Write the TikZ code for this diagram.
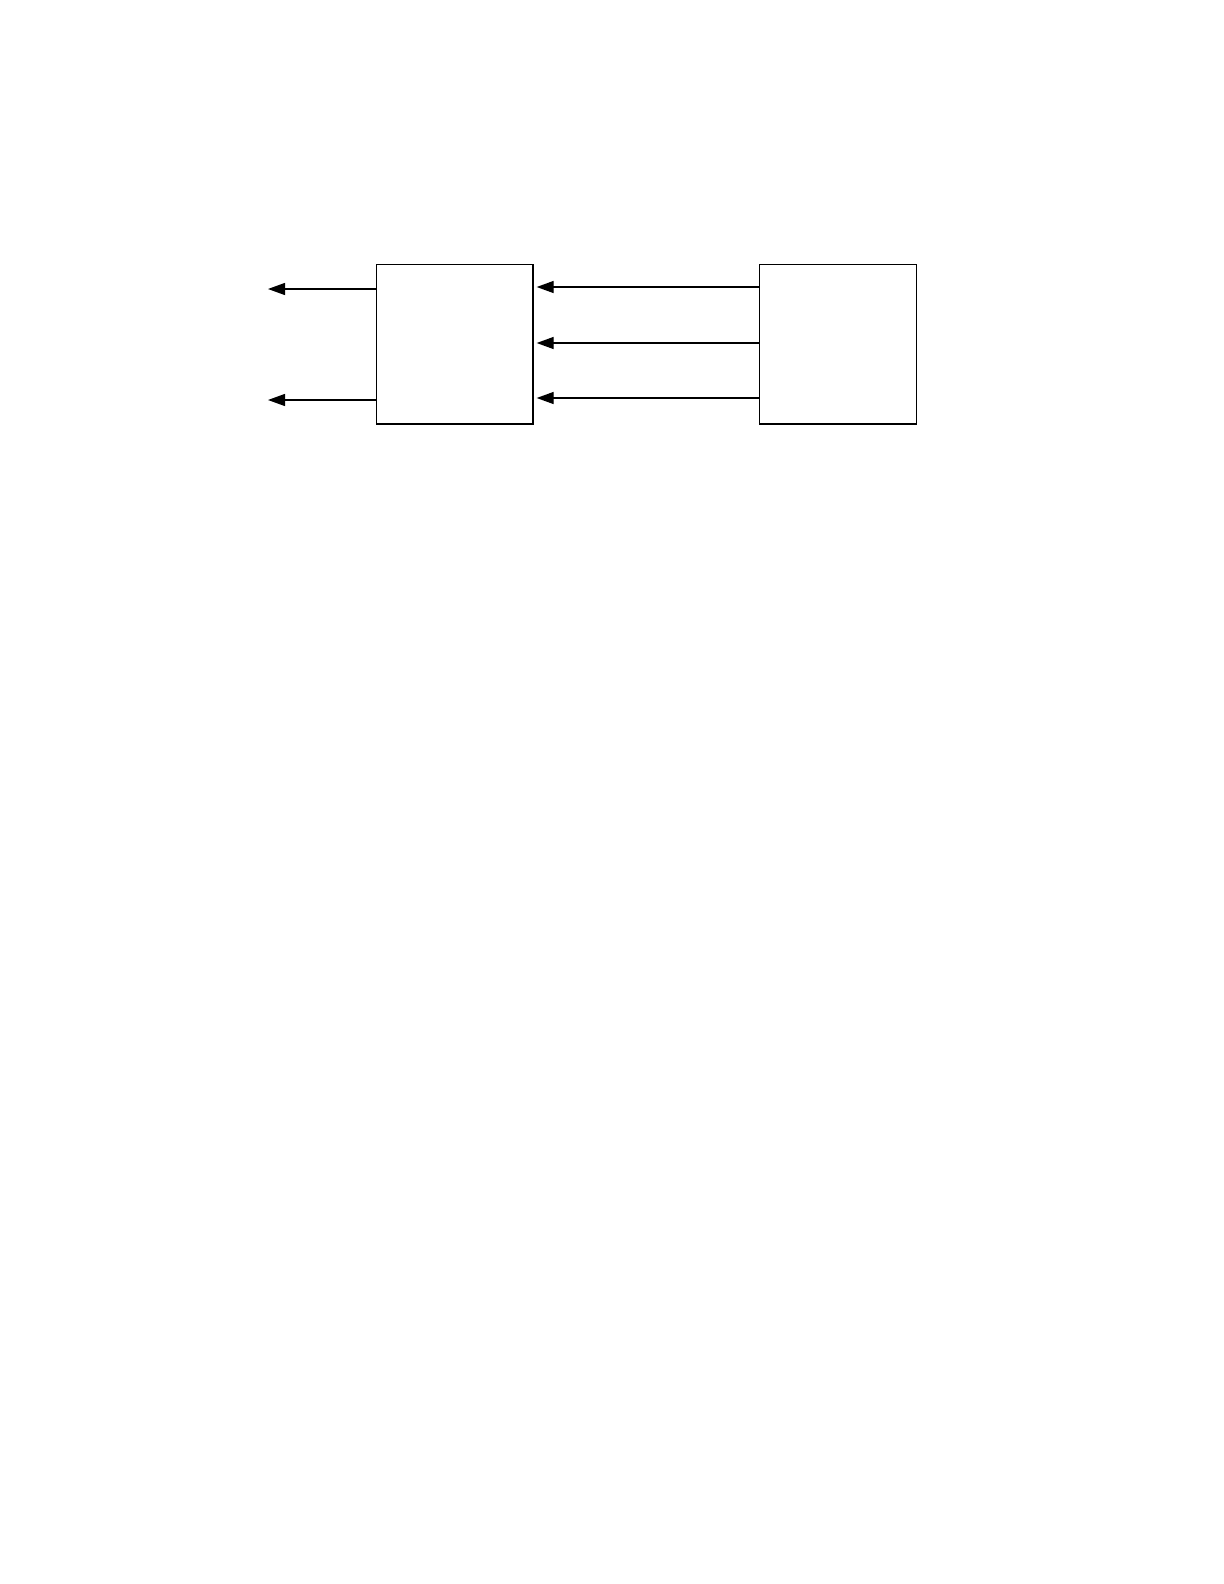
\documentclass[tikz,border=0pt]{standalone}
\usetikzlibrary{arrows.meta}
\begin{document}
\begin{tikzpicture}[x=0.5pt,y=-0.5pt,
  blockbox/.style={draw, line width=0.65pt, minimum width=78.25pt, minimum height=79.75pt, inner sep=0pt},
  arr/.style={line width=0.65pt, -{Triangle[length=8.5pt,width=6pt]}}]
\useasboundingbox (0,0) rectangle (1224,1584);
\node[blockbox] (L) at (454.75,344.25) {};
\node[blockbox] (R) at (838,344.25) {};
\coordinate (o1) at (268,289);
\coordinate (o2) at (268,400);
\draw[arr] (L.west |- o1) -- (o1);
\draw[arr] (L.west |- o2) -- (o2);
\coordinate (m1) at (0,287);
\coordinate (m2) at (0,343);
\coordinate (m3) at (0,398);
\draw[arr, shorten >=1.5pt] (R.west |- m1) -- (L.east |- m1);
\draw[arr, shorten >=1.5pt] (R.west |- m2) -- (L.east |- m2);
\draw[arr, shorten >=1.5pt] (R.west |- m3) -- (L.east |- m3);
\end{tikzpicture}
\end{document}
